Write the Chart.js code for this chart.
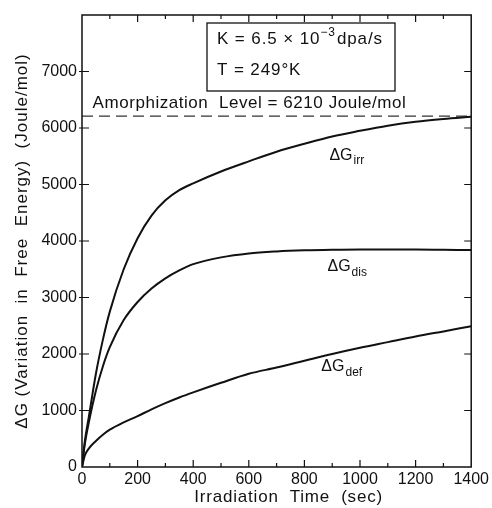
<!DOCTYPE html>
<html>
<head>
<meta charset="utf-8">
<script src="https://cdn.jsdelivr.net/npm/chart.js@4.4.1/dist/chart.umd.min.js"></script>
<style>
  html, body { margin: 0; padding: 0; background: #fff; }
  #wrap { width: 492px; height: 508px; }
</style>
</head>
<body>
<div id="wrap"><canvas id="chart" width="492" height="508"></canvas></div>
<script>
// irradiation time (sec) and free energy change (Joule/mol) for each term
const times = [0, 10, 25, 50, 75, 100, 150, 200, 250, 300, 350, 400, 500, 600, 700, 800, 900, 1000, 1100, 1200, 1300, 1400];
const gIrr  = [0, 450, 900, 1650, 2250, 2750, 3500, 4050, 4450, 4720, 4900, 5020, 5230, 5410, 5580, 5720, 5850, 5950, 6040, 6110, 6160, 6200];
const gDis  = [0, 400, 800, 1350, 1780, 2120, 2600, 2920, 3160, 3340, 3480, 3590, 3710, 3780, 3815, 3835, 3845, 3850, 3850, 3850, 3845, 3840];
const gDef  = [0, 200, 330, 460, 570, 660, 790, 900, 1020, 1130, 1230, 1320, 1490, 1650, 1760, 1880, 2000, 2110, 2210, 2310, 2400, 2490];
const amorphLevel = 6210;
const timeRange = [0, 1400];
const curveLabels = [
  { main: 'ΔG', sub: 'irr', t: 890, g: 5520 },
  { main: 'ΔG', sub: 'dis', t: 883, g: 3540 },
  { main: 'ΔG', sub: 'def', t: 861, g: 1770 }
];
const xTitle = 'Irradiation  Time  (sec)';
const yTitle = 'ΔG (Variation  in  Free  Energy)  (Joule/mol)';

const FONT = '"Liberation Sans", Arial, Helvetica, sans-serif';

function toPoints(ys) {
  return times.map((t, i) => ({ x: t, y: ys[i] }));
}

// frame, inward ticks, axis titles and text annotations
const decorations = {
  id: 'decorations',
  afterDatasetsDraw(chart) {
    const ctx = chart.ctx;
    const a = chart.chartArea;
    const xs = chart.scales.x, ys = chart.scales.y;
    ctx.save();
    ctx.strokeStyle = '#111';
    ctx.lineWidth = 1.5;
    ctx.strokeRect(a.left, a.top, a.right - a.left, a.bottom - a.top);

    ctx.lineWidth = 1.2;
    for (let t = 100; t < 1400; t += 100) {
      const px = xs.getPixelForValue(t);
      const len = t % 200 === 0 ? 7 : 4;
      ctx.beginPath();
      ctx.moveTo(px, a.bottom); ctx.lineTo(px, a.bottom - len);
      ctx.moveTo(px, a.top); ctx.lineTo(px, a.top + len);
      ctx.stroke();
    }
    for (let g = 1000; g < 8000; g += 1000) {
      const py = ys.getPixelForValue(g);
      ctx.beginPath();
      ctx.moveTo(a.left - 3, py); ctx.lineTo(a.left + 7, py);
      ctx.moveTo(a.right, py); ctx.lineTo(a.right - 7, py);
      ctx.stroke();
    }

    ctx.fillStyle = '#111';
    ctx.textBaseline = 'middle';

    // axis titles
    ctx.font = '17px ' + FONT;
    ctx.textAlign = 'center';
    ctx.letterSpacing = '0.8px';
    ctx.fillText(xTitle, (a.left + a.right) / 2 + 12, 497);
    ctx.save();
    ctx.translate(22, (a.top + a.bottom) / 2);
    ctx.rotate(-Math.PI / 2);
    ctx.letterSpacing = '1px';
    ctx.fillText(yTitle, 0, 0);
    ctx.restore();

    ctx.textAlign = 'left';
    // amorphization level caption above the dashed line
    const lvY = ys.getPixelForValue(amorphLevel);
    ctx.letterSpacing = '0.55px';
    ctx.font = '17px ' + FONT;
    ctx.fillText('Amorphization  Level = ' + amorphLevel + ' Joule/mol', xs.getPixelForValue(38), lvY - 13);

    // curve names with subscripts
    ctx.letterSpacing = '0px';
    curveLabels.forEach(l => {
      const px = xs.getPixelForValue(l.t);
      const py = ys.getPixelForValue(l.g);
      ctx.font = '16px ' + FONT;
      ctx.fillText(l.main, px, py);
      const w = ctx.measureText(l.main).width;
      ctx.font = '12px ' + FONT;
      ctx.fillText(l.sub, px + w + 1, py + 6);
    });

    // parameter box
    const bx = 207, by = 23, bw = 188, bh = 68;
    ctx.lineWidth = 1.3;
    ctx.fillStyle = '#fff';
    ctx.fillRect(bx, by, bw, bh);
    ctx.strokeRect(bx, by, bw, bh);
    ctx.fillStyle = '#111';
    ctx.letterSpacing = '0.9px';
    ctx.font = '17px ' + FONT;
    let x = bx + 10;
    const s1 = 'K = 6.5 × 10';
    ctx.fillText(s1, x, by + 16);
    x += ctx.measureText(s1).width;
    ctx.font = '12px ' + FONT;
    ctx.fillText('−3', x, by + 10);
    x += ctx.measureText('−3').width + 1;
    ctx.font = '17px ' + FONT;
    ctx.fillText('dpa/s', x, by + 16);
    ctx.fillText('T = 249°K', bx + 10, by + 47);
    ctx.restore();
  }
};

const lineStyle = {
  borderColor: '#111',
  borderWidth: 2,
  pointRadius: 0,
  fill: false,
  cubicInterpolationMode: 'monotone'
};

new Chart(document.getElementById('chart'), {
  type: 'line',
  data: {
    datasets: [
      { label: 'irr', data: toPoints(gIrr), ...lineStyle },
      { label: 'dis', data: toPoints(gDis), ...lineStyle },
      { label: 'def', data: toPoints(gDef), ...lineStyle },
      {
        label: 'amorphization',
        data: timeRange.map(t => ({ x: t, y: amorphLevel })),
        borderColor: '#333',
        borderWidth: 1.1,
        borderDash: [11, 6],
        pointRadius: 0,
        fill: false
      }
    ]
  },
  options: {
    responsive: false,
    animation: false,
    devicePixelRatio: 1,
    layout: { padding: { top: 15, right: 18, left: 0, bottom: 0 } },
    plugins: { legend: { display: false }, tooltip: { enabled: false } },
    scales: {
      x: {
        type: 'linear',
        min: 0, max: 1400,
        grid: { display: false, drawTicks: false },
        border: { display: false },
        ticks: {
          stepSize: 200, color: '#111', padding: 3, maxRotation: 0,
          font: { family: FONT, size: 16 },
          callback: v => String(v)
        },
        afterFit(s) { s.height = 41; }
      },
      y: {
        type: 'linear',
        min: 0, max: 8000,
        grid: { display: false, drawTicks: false },
        border: { display: false },
        ticks: {
          stepSize: 1000, color: '#111', padding: 5,
          font: { family: FONT, size: 16 },
          callback: v => (v === 8000 ? '' : String(v))
        },
        afterFit(s) { s.width = 82; }
      }
    }
  },
  plugins: [decorations]
});
</script>
</body>
</html>
